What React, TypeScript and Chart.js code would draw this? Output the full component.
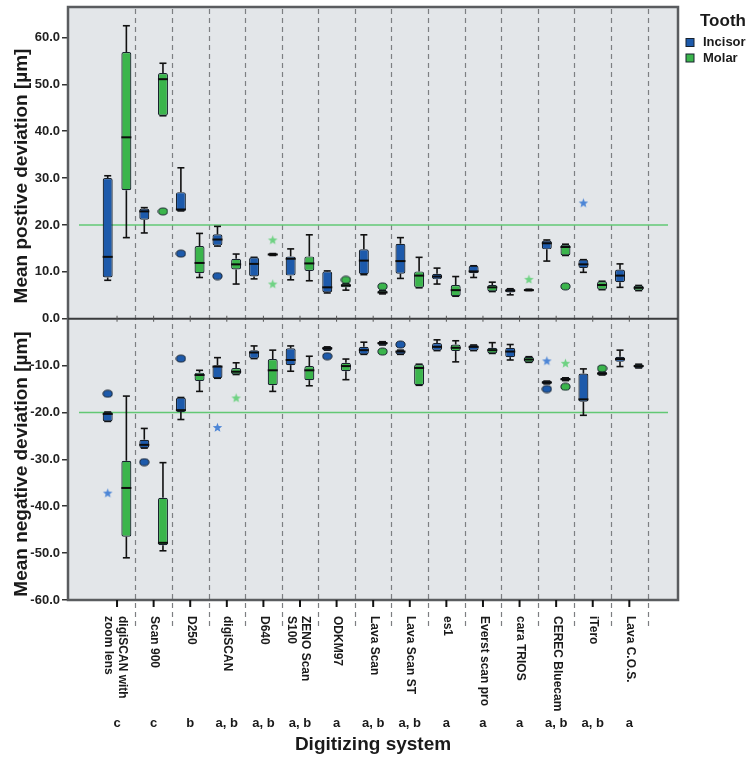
import React, { useEffect, useRef } from "react";
import { Chart, registerables } from "chart.js";

Chart.register(...registerables);

// ---------- data ----------
const systemLabels: string[][] = [
  ["digiSCAN with", "zoom lens"],
  ["Scan 900"],
  ["D250"],
  ["digiSCAN"],
  ["D640"],
  ["ZENO Scan", "S100"],
  ["ODKM97"],
  ["Lava Scan"],
  ["Lava Scan ST"],
  ["es1"],
  ["Everst scan pro"],
  ["cara TRIOS"],
  ["CEREC Bluecam"],
  ["iTero"],
  ["Lava C.O.S."],
];
const groupLetters = ["c", "c", "b", "a, b", "a, b", "a, b", "a", "a, b", "a, b", "a", "a", "a", "a, b", "a, b", "a"];
const toothNames = ["Incisor", "Molar"];
const referenceLevels = [20, -20];

// [min, q1, median, q3, max]
const posIncisor = [
  [8.2, 8.8, 13.2, 30.0, 30.5],
  [18.3, 21.1, 22.9, 23.5, 23.7],
  [23.0, 23.0, 23.3, 27.0, 32.2],
  [15.5, 15.6, 16.9, 18.0, 19.7],
  [8.5, 9.0, 11.7, 13.1, 13.1],
  [8.3, 9.2, 12.8, 13.3, 14.9],
  [5.5, 5.6, 6.7, 10.1, 10.2],
  [9.4, 9.5, 12.4, 14.8, 17.9],
  [8.6, 9.6, 12.3, 16.0, 17.3],
  [7.4, 8.4, 9.0, 9.6, 10.8],
  [8.8, 9.7, 10.1, 11.3, 11.3],
  [5.1, 5.6, 6.0, 6.4, 6.4],
  [12.3, 14.8, 16.1, 16.7, 16.8],
  [9.9, 10.8, 11.6, 12.6, 12.6],
  [6.7, 7.8, 9.2, 10.5, 11.7],
];
const posMolar = [
  [17.3, 27.4, 38.7, 56.9, 62.5],
  [43.3, 43.3, 51.1, 52.4, 54.5],
  [8.8, 9.7, 11.9, 15.5, 18.2],
  [7.4, 10.5, 11.6, 12.8, 13.8],
  [13.5, 13.6, 13.7, 13.9, 13.9],
  [8.1, 10.2, 11.8, 13.3, 17.9],
  [6.1, 6.7, 7.1, 7.5, 7.5],
  [5.3, 5.4, 5.6, 6.0, 6.0],
  [6.6, 6.6, 9.2, 10.1, 13.1],
  [4.8, 4.8, 6.1, 7.2, 9.0],
  [5.8, 5.8, 6.7, 7.2, 7.8],
  [6.0, 6.0, 6.1, 6.3, 6.3],
  [13.5, 13.5, 15.3, 15.8, 15.9],
  [6.2, 6.2, 7.2, 8.0, 8.0],
  [6.0, 6.0, 6.6, 7.1, 7.1],
];
const negIncisor = [
  [-21.9, -21.9, -20.3, -19.9, -19.9],
  [-27.6, -27.6, -26.9, -25.8, -23.4],
  [-21.5, -19.9, -19.5, -16.8, -16.8],
  [-12.7, -12.7, -10.2, -9.9, -8.3],
  [-8.5, -8.5, -7.2, -6.7, -5.8],
  [-11.2, -9.9, -8.8, -6.3, -5.8],
  [-6.7, -6.7, -6.3, -6.0, -6.0],
  [-7.6, -7.6, -6.7, -6.0, -5.0],
  [-7.6, -7.6, -7.0, -6.7, -6.7],
  [-6.8, -6.8, -6.0, -5.2, -4.5],
  [-6.8, -6.8, -6.0, -5.6, -5.6],
  [-8.8, -8.2, -7.0, -6.2, -5.5],
  [-13.9, -13.9, -13.6, -13.3, -13.3],
  [-20.6, -17.7, -17.2, -11.7, -10.7],
  [-10.2, -9.2, -8.6, -8.1, -6.7],
];
const negMolar = [
  [-51.0, -46.5, -36.1, -30.3, -16.5],
  [-49.5, -48.3, -47.8, -38.2, -30.7],
  [-15.5, -13.3, -12.0, -11.5, -11.0],
  [-11.9, -11.9, -11.3, -10.5, -9.4],
  [-15.5, -14.2, -11.0, -8.6, -6.7],
  [-14.3, -13.1, -11.0, -10.1, -8.0],
  [-13.0, -11.2, -10.1, -9.4, -8.6],
  [-5.6, -5.6, -5.2, -4.9, -4.9],
  [-14.2, -14.2, -10.5, -9.7, -9.7],
  [-9.2, -6.9, -6.2, -5.5, -4.7],
  [-7.4, -7.4, -6.7, -6.2, -5.1],
  [-9.3, -9.3, -8.7, -8.1, -8.1],
  [-13.2, -13.2, -12.9, -12.6, -12.6],
  [-12.0, -12.0, -11.7, -11.3, -11.3],
  [-10.5, -10.5, -10.1, -9.7, -9.7],
];
// outliers: [system index, value]
const incisorCircles = [[2, 13.9], [3, 9.1], [0, -16.0], [1, -30.6], [2, -8.5], [6, -8.0], [8, -5.5], [12, -15.0]];
const molarCircles = [[1, 22.9], [6, 8.3], [7, 6.9], [12, 6.9], [7, -7.0], [12, -14.5], [13, -10.6]];
const incisorStars = [[13, 24.7], [0, -37.2], [3, -23.2], [12, -9.0]];
const molarStars = [[4, 16.8], [4, 7.4], [11, 8.4], [3, -16.9], [12, -9.5]];

// ---------- styles ----------
const FONT = "'Liberation Sans', Arial, Helvetica, sans-serif";
const BLUE = "#1d5aab";
const GREEN = "#3bb54c";
const BLUE_STAR = "#4d86d6";
const GREEN_STAR = "#6fd283";
const EDGE = "#18222e";
const OFF = 0.255;

const boxSeries = [
  { stats: posIncisor, off: -OFF },
  { stats: posMolar, off: OFF },
  { stats: negIncisor, off: -OFF },
  { stats: negMolar, off: OFF },
];

function makeEllipse(fill: string) {
  const c = document.createElement("canvas");
  c.width = 11; c.height = 9;
  const g = c.getContext("2d")!;
  g.beginPath();
  g.ellipse(5.5, 4.5, 4.6, 3.5, 0, 0, Math.PI * 2);
  g.fillStyle = fill; g.fill();
  g.lineWidth = 1; g.strokeStyle = EDGE; g.stroke();
  return c;
}
function makeStar(fill: string) {
  const c = document.createElement("canvas");
  c.width = 11; c.height = 11;
  const g = c.getContext("2d")!;
  g.beginPath();
  for (let k = 0; k < 10; k++) {
    const r = k % 2 === 0 ? 5 : 2.1;
    const a = -Math.PI / 2 + (k * Math.PI) / 5;
    const px = 5.5 + r * Math.cos(a), py = 5.8 + r * Math.sin(a);
    if (k === 0) g.moveTo(px, py); else g.lineTo(px, py);
  }
  g.closePath(); g.fillStyle = fill; g.fill();
  return c;
}

function line(ctx: CanvasRenderingContext2D, x1: number, y1: number, x2: number, y2: number) {
  ctx.beginPath(); ctx.moveTo(x1, y1); ctx.lineTo(x2, y2); ctx.stroke();
}

const decorPlugin = {
  id: "decor",
  beforeDraw(chart: any) {
    const { ctx, chartArea: a } = chart;
    ctx.save();
    ctx.fillStyle = "#e3e6e9";
    ctx.fillRect(a.left, a.top, a.width, a.height);
    ctx.restore();
  },
  beforeDatasetsDraw(chart: any) {
    const { ctx, chartArea: a, scales } = chart;
    const x = scales.x, y = scales.y;
    ctx.save();
    // dashed separators
    ctx.strokeStyle = "#7d7f82"; ctx.lineWidth = 1.2; ctx.setLineDash([5, 4]);
    for (let i = 0; i < systemLabels.length; i++) {
      const px = Math.round(x.getPixelForValue(i + 0.5)) + 0.5;
      line(ctx, px, a.top + 2, px, a.bottom + 30);
    }
    ctx.setLineDash([]);
    // reference lines
    ctx.strokeStyle = "#62c874"; ctx.lineWidth = 1.5;
    referenceLevels.forEach((v) => {
      const py = y.getPixelForValue(v);
      line(ctx, a.left + 11, py, a.right - 10, py);
    });
    // whiskers
    ctx.strokeStyle = "#111"; ctx.lineWidth = 1.6;
    boxSeries.forEach(({ stats, off }) => {
      stats.forEach((s, i) => {
        const px = x.getPixelForValue(i + off);
        const [mn, q1, , q3, mx] = s.map((v) => y.getPixelForValue(v));
        line(ctx, px, mx, px, q3);
        line(ctx, px, q1, px, mn);
        line(ctx, px - 3.5, mx, px + 3.5, mx);
        line(ctx, px - 3.5, mn, px + 3.5, mn);
      });
    });
    ctx.restore();
  },
  afterDatasetsDraw(chart: any) {
    const { ctx, scales } = chart;
    const x = scales.x, y = scales.y;
    ctx.save();
    ctx.strokeStyle = "#0c0c0c"; ctx.lineWidth = 2;
    boxSeries.forEach(({ stats, off }) => {
      stats.forEach((s, i) => {
        const px = x.getPixelForValue(i + off);
        const py = y.getPixelForValue(s[2]);
        line(ctx, px - 5, py, px + 5, py);
      });
    });
    ctx.restore();
  },
  afterDraw(chart: any) {
    const { ctx, chartArea: a, scales } = chart;
    const x = scales.x, y = scales.y;
    ctx.save();
    // frame and zero line
    ctx.strokeStyle = "#5a5c5f"; ctx.lineWidth = 2.5;
    ctx.strokeRect(a.left, a.top, a.width, a.height);
    const y0 = y.getPixelForValue(0);
    ctx.strokeStyle = "#3a3b3d"; ctx.lineWidth = 2;
    line(ctx, a.left, y0, a.right, y0);
    // x ticks
    for (let i = 0; i < systemLabels.length; i++) {
      const px = x.getPixelForValue(i);
      ctx.strokeStyle = "#111"; ctx.lineWidth = 2;
      line(ctx, px, a.bottom, px, a.bottom + 7);
      ctx.lineWidth = 1; ctx.strokeStyle = "#555";
      line(ctx, px, y0 - 3, px, y0 + 3);
    }
    // x labels (rotated, reading downward)
    ctx.fillStyle = "#1a1a1a";
    ctx.font = `bold 12px ${FONT}`;
    ctx.textAlign = "left"; ctx.textBaseline = "middle";
    systemLabels.forEach((lines, i) => {
      const px = x.getPixelForValue(i);
      lines.forEach((t, k) => {
        const dx = lines.length > 1 ? 5 - k * 14 : 1;
        ctx.save();
        ctx.translate(px + dx, a.bottom + 16);
        ctx.rotate(Math.PI / 2);
        ctx.fillText(t, 0, 0);
        ctx.restore();
      });
    });
    // group letters
    ctx.font = `bold 13px ${FONT}`;
    ctx.textAlign = "center";
    groupLetters.forEach((g, i) => {
      ctx.fillText(g, x.getPixelForValue(i), 723);
    });
    // x title
    ctx.font = `bold 19px ${FONT}`;
    ctx.fillText("Digitizing system", (a.left + a.right) / 2, 745);
    // y titles
    ctx.font = `bold 19px ${FONT}`;
    [["Mean postive deviation [µm]", 176], ["Mean negative deviation [µm]", 464]].forEach(([t, cy]) => {
      ctx.save();
      ctx.translate(22, cy as number);
      ctx.rotate(-Math.PI / 2);
      ctx.fillText(t as string, 0, 0);
      ctx.restore();
    });
    // legend
    ctx.textAlign = "left";
    ctx.font = `bold 17px ${FONT}`;
    ctx.fillText("Tooth", 700, 21);
    ctx.font = `bold 13px ${FONT}`;
    [BLUE, GREEN].forEach((c, k) => {
      const ty = 42.5 + k * 15.5;
      ctx.fillStyle = c;
      ctx.fillRect(686, ty - 4, 8, 8);
      ctx.strokeStyle = EDGE; ctx.lineWidth = 1;
      ctx.strokeRect(686, ty - 4, 8, 8);
      ctx.fillStyle = "#1a1a1a";
      ctx.fillText(toothNames[k], 703, ty);
    });
    ctx.restore();
  },
};

export default function App() {
  const ref = useRef<HTMLCanvasElement>(null);
  useEffect(() => {
    const boxData = (stats: number[][], off: number) => stats.map((s, i) => ({ x: i + off, y: [s[1], s[3]] }));
    const ptData = (pts: number[][], off: number) => pts.map(([i, v]) => ({ x: i + off, y: v }));
    const barStyle = (color: string) => ({
      type: "bar" as const,
      backgroundColor: color,
      borderColor: EDGE,
      borderWidth: 1.2,
      borderRadius: 2,
      borderSkipped: false,
      grouped: false,
      maxBarThickness: 10,
    });
    const ptStyle = (img: HTMLCanvasElement) => ({
      type: "scatter" as const,
      pointStyle: img,
      pointRadius: 4,
      pointHoverRadius: 4,
    });
    const chart = new Chart(ref.current!, {
      type: "bar",
      data: {
        datasets: [
          { label: "Incisor +", data: boxData(posIncisor, -OFF), ...barStyle(BLUE) },
          { label: "Molar +", data: boxData(posMolar, OFF), ...barStyle(GREEN) },
          { label: "Incisor -", data: boxData(negIncisor, -OFF), ...barStyle(BLUE) },
          { label: "Molar -", data: boxData(negMolar, OFF), ...barStyle(GREEN) },
          { label: "Incisor outliers", data: ptData(incisorCircles, -OFF), ...ptStyle(makeEllipse(BLUE)) },
          { label: "Molar outliers", data: ptData(molarCircles, OFF), ...ptStyle(makeEllipse(GREEN)) },
          { label: "Incisor extremes", data: ptData(incisorStars, -OFF), ...ptStyle(makeStar(BLUE_STAR)) },
          { label: "Molar extremes", data: ptData(molarStars, OFF), ...ptStyle(makeStar(GREEN_STAR)) },
        ] as any,
      },
      options: {
        responsive: false,
        animation: false,
        layout: { padding: { left: 0, top: 7, right: 72, bottom: 159 } },
        plugins: { legend: { display: false }, tooltip: { enabled: false } },
        scales: {
          x: { type: "linear", min: -1.34, max: 15.33, display: false, offset: false },
          y: {
            min: -60,
            max: 66.5,
            afterFit: (s: any) => { s.width = 68; s.paddingTop = 0; s.paddingBottom = 0; },
            ticks: {
              stepSize: 10,
              includeBounds: false,
              callback: (v: any) => Number(v).toFixed(1),
              font: { family: FONT, size: 13, weight: "bold" },
              color: "#222",
              padding: 2,
            },
            grid: { drawOnChartArea: false, tickLength: 6, color: "#333", lineWidth: 1.5 },
            border: { display: false },
          },
        },
      } as any,
      plugins: [decorPlugin],
    });
    return () => chart.destroy();
  }, []);
  return (
    <div style={{ position: "absolute", left: 0, top: 0, width: 750, height: 759, background: "#fff" }}>
      <canvas ref={ref} width={750} height={759} style={{ width: 750, height: 759, display: "block" }} />
    </div>
  );
}
